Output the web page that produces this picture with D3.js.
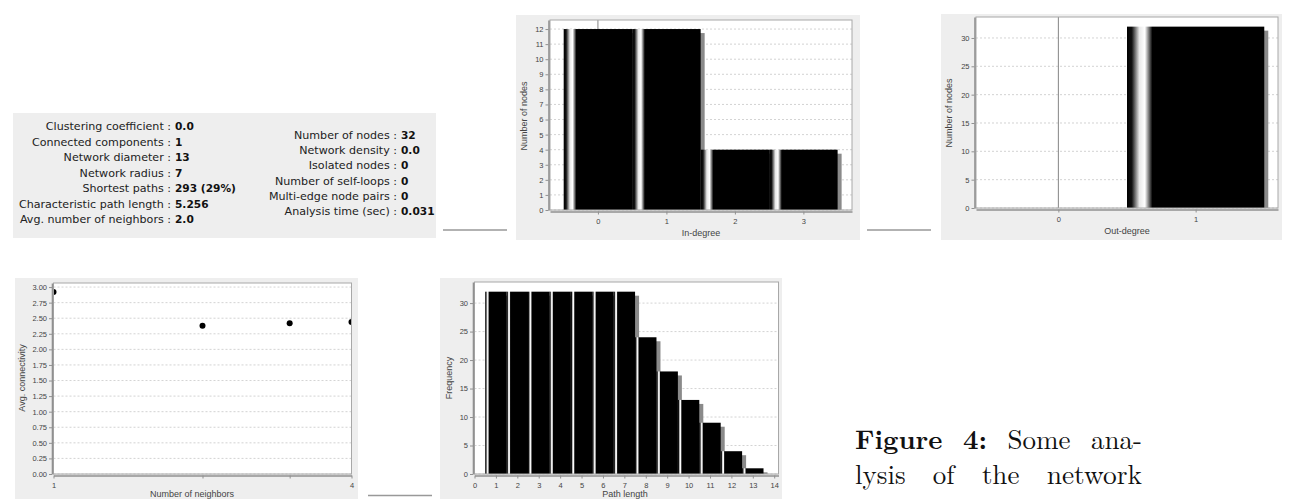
<!DOCTYPE html>
<html>
<head>
<meta charset="utf-8">
<script src="https://cdn.jsdelivr.net/npm/d3@7"></script>
<style>
  body { margin: 0; background: #fff; }
  svg { display: block; }
</style>
</head>
<body>
<div id="fig"></div>
<script>
// ---- data ----
var statLabelsLeft = ["Clustering coefficient", "Connected components", "Network diameter",
    "Network radius", "Shortest paths", "Characteristic path length", "Avg. number of neighbors"];
var statValuesLeft = ["0.0", "1", "13", "7", "293 (29%)", "5.256", "2.0"];
var statLabelsRight = ["Number of nodes", "Network density", "Isolated nodes",
    "Number of self-loops", "Multi-edge node pairs", "Analysis time (sec)"];
var statValuesRight = ["32", "0.0", "0", "0", "0", "0.031"];

var inDegree = [0, 1, 2, 3];
var inDegreeCounts = [12, 12, 4, 4];
var inDegreeXTicks = [0, 1, 2, 3];
var inDegreeYTicks = [0, 1, 2, 3, 4, 5, 6, 7, 8, 9, 10, 11, 12];

var outDegree = [1];
var outDegreeCounts = [32];
var outDegreeXTicks = [0, 1];
var outDegreeYTicks = [0, 5, 10, 15, 20, 25, 30];

var neighbors = [1, 2, 3, 4];
var avgConnectivity = [2.92, 2.38, 2.42, 2.44];
var neighborXTicks = [1, 2, 3, 4];
var connYTicks = [0, 0.25, 0.5, 0.75, 1, 1.25, 1.5, 1.75, 2, 2.25, 2.5, 2.75, 3];

var pathLength = [1, 2, 3, 4, 5, 6, 7, 8, 9, 10, 11, 12, 13];
var pathFreq = [32, 32, 32, 32, 32, 32, 32, 24, 18, 13, 9, 4, 1];
var pathXTicks = [0, 1, 2, 3, 4, 5, 6, 7, 8, 9, 10, 11, 12, 13, 14];
var pathYTicks = [0, 5, 10, 15, 20, 25, 30];

// caption words: text, bold, width in em (Computer Modern metrics)
var captionLine1 = [["Figure", true, 3.24], ["4:", true, 0.894], ["Some", false, 2.333], ["ana-", false, 1.889]];
var captionLine2 = [["lysis", false, 1.872], ["of", false, 0.806], ["the", false, 1.389], ["network", false, 3.531]];

// ---- drawing ----
var svg = d3.select("#fig").append("svg")
    .attr("width", 1291)
    .attr("height", 499);

var defs = svg.append("defs");
// JFreeChart style bar gradient (dark edge, bright stripe, then solid)
var grad = defs.append("linearGradient")
    .attr("id", "barGrad")
    .attr("x1", 0).attr("x2", 1).attr("y1", 0).attr("y2", 0);
[[0, "#000"], [0.035, "#111"], [0.09, "#e8e8e8"], [0.13, "#fff"], [0.185, "#000"], [1, "#000"]]
    .forEach(function(s) {
        grad.append("stop").attr("offset", s[0]).attr("stop-color", s[1]);
    });

var tickFont = "Liberation Sans, Arial, sans-serif";
var clipCount = 0;

function drawChart(o) {
    var g = svg.append("g");
    var p = o.plot;

    g.append("rect")
        .attr("x", o.panel[0]).attr("y", o.panel[1])
        .attr("width", o.panel[2]).attr("height", o.panel[3])
        .attr("fill", "#eeeeee");

    g.append("rect")
        .attr("x", p.x).attr("y", p.y)
        .attr("width", p.w).attr("height", p.h)
        .attr("fill", "#fff");

    var x = o.x.range([p.x, p.x + p.w]);
    var y = d3.scaleLinear().domain(o.yDomain).range([p.y + p.h, p.y]);

    // horizontal dashed gridlines
    g.selectAll(".grid")
        .data(o.yTicks)
        .enter()
        .append("line")
        .attr("x1", p.x).attr("x2", p.x + p.w)
        .attr("y1", function(d) { return y(d); })
        .attr("y2", function(d) { return y(d); })
        .attr("stroke", "#c8c8c8")
        .attr("stroke-width", 0.8)
        .attr("stroke-dasharray", "2,2");

    // zero baseline on the domain axis
    if (o.zeroLine) {
        g.append("line")
            .attr("x1", x(0)).attr("x2", x(0))
            .attr("y1", p.y).attr("y2", p.y + p.h)
            .attr("stroke", "#666")
            .attr("stroke-width", 0.8);
    }

    var id = "clip" + (clipCount++);
    defs.append("clipPath").attr("id", id)
        .append("rect")
        .attr("x", p.x).attr("y", p.y)
        .attr("width", p.w).attr("height", p.h);

    var marks = g.append("g").attr("clip-path", "url(#" + id + ")");
    o.marks(marks, x, y);

    // plot outline
    g.append("rect")
        .attr("x", p.x).attr("y", p.y)
        .attr("width", p.w).attr("height", p.h)
        .attr("fill", "none")
        .attr("stroke", "#a8a8a8")
        .attr("stroke-width", 1);

    // axes
    var yAxis = d3.axisLeft(y)
        .tickValues(o.yTicks)
        .tickFormat(o.yFormat)
        .tickSize(3)
        .tickSizeOuter(0)
        .tickPadding(2);
    var xAxis = d3.axisBottom(x)
        .tickValues(o.xTicks)
        .tickFormat(o.xFormat)
        .tickSize(3)
        .tickSizeOuter(0)
        .tickPadding(4);

    var ya = g.append("g")
        .attr("transform", "translate(" + (p.x - 1.5) + ",0)")
        .call(yAxis);
    var xa = g.append("g")
        .attr("transform", "translate(0," + (p.y + p.h + 1.5) + ")")
        .call(xAxis);

    [ya, xa].forEach(function(a) {
        a.select(".domain").attr("stroke", "#909090").attr("stroke-width", 1.6);
        a.selectAll(".tick line").attr("stroke", "#909090");
        a.selectAll(".tick text")
            .attr("fill", "#444")
            .style("font-family", tickFont)
            .style("font-size", "7.5px");
    });

    g.append("text")
        .attr("transform", "translate(" + o.yLabelPos[0] + "," + o.yLabelPos[1] + ") rotate(-90)")
        .attr("text-anchor", "middle")
        .attr("fill", "#444")
        .style("font-family", tickFont)
        .style("font-size", "9px")
        .text(o.yLabel);

    g.append("text")
        .attr("x", o.xLabelPos[0]).attr("y", o.xLabelPos[1])
        .attr("text-anchor", "middle")
        .attr("fill", "#444")
        .style("font-family", tickFont)
        .style("font-size", "9px")
        .text(o.xLabel);
}

function barMarks(xs, ys) {
    return function(m, x, y) {
        var data = xs.map(function(d, i) { return { x: d, v: ys[i] }; });
        // shadows
        m.selectAll(".shadow")
            .data(data)
            .enter()
            .append("rect")
            .attr("x", function(d) { return x(d.x - 0.5) + 4; })
            .attr("y", function(d) { return y(d.v) + 4; })
            .attr("width", function(d) { return x(d.x + 0.5) - x(d.x - 0.5); })
            .attr("height", function(d) { return y(0) - y(d.v); })
            .attr("fill", "#8a8a8a");
        m.selectAll(".bar")
            .data(data)
            .enter()
            .append("rect")
            .attr("x", function(d) { return x(d.x - 0.5); })
            .attr("y", function(d) { return y(d.v); })
            .attr("width", function(d) { return x(d.x + 0.5) - x(d.x - 0.5); })
            .attr("height", function(d) { return y(0) - y(d.v); })
            .attr("fill", "url(#barGrad)");
    };
}

// In-degree
drawChart({
    panel: [516, 15, 344, 225],
    plot: { x: 550, y: 20, w: 302, h: 190 },
    x: d3.scaleLinear().domain([-0.7, 3.71]),
    yDomain: [0, 12.6],
    xTicks: inDegreeXTicks, yTicks: inDegreeYTicks,
    xFormat: d3.format("d"), yFormat: d3.format("d"),
    zeroLine: true,
    marks: barMarks(inDegree, inDegreeCounts),
    yLabel: "Number of nodes", yLabelPos: [527, 116],
    xLabel: "In-degree", xLabelPos: [701, 235.5]
});

// Out-degree
drawChart({
    panel: [941, 14, 341, 226],
    plot: { x: 976, y: 17, w: 302, h: 191 },
    x: d3.scaleLinear().domain([-0.6, 1.6]),
    yDomain: [0, 33.7],
    xTicks: outDegreeXTicks, yTicks: outDegreeYTicks,
    xFormat: d3.format("d"), yFormat: d3.format("d"),
    zeroLine: true,
    marks: barMarks(outDegree, outDegreeCounts),
    yLabel: "Number of nodes", yLabelPos: [952, 113],
    xLabel: "Out-degree", xLabelPos: [1127, 234]
});

// Avg. connectivity vs number of neighbors (log x axis)
drawChart({
    panel: [15, 278, 343, 225],
    plot: { x: 53.5, y: 283, w: 298, h: 191 },
    x: d3.scaleLog().domain([1, 4]),
    yDomain: [0, 3.065],
    xTicks: neighborXTicks, yTicks: connYTicks,
    xFormat: function(d) { return (d === 1 || d === 4) ? d : ""; },
    yFormat: d3.format(".2f"),
    zeroLine: false,
    marks: function(m, x, y) {
        m.selectAll("circle")
            .data(neighbors)
            .enter()
            .append("circle")
            .attr("cx", function(d) { return x(d); })
            .attr("cy", function(d, i) { return y(avgConnectivity[i]); })
            .attr("r", 3)
            .attr("fill", "#000");
    },
    yLabel: "Avg. connectivity", yLabelPos: [25, 378],
    xLabel: "Number of neighbors", xLabelPos: [192, 496.5]
});

// Shortest path length distribution
drawChart({
    panel: [440, 278, 342, 225],
    plot: { x: 474.5, y: 282, w: 304, h: 192 },
    x: d3.scaleLinear().domain([0, 14.2]),
    yDomain: [0, 33.7],
    xTicks: pathXTicks, yTicks: pathYTicks,
    xFormat: d3.format("d"), yFormat: d3.format("d"),
    zeroLine: false,
    marks: barMarks(pathLength, pathFreq),
    yLabel: "Frequency", yLabelPos: [452, 378],
    xLabel: "Path length", xLabelPos: [625, 496.5]
});

// ---- statistics panel ----
var stats = svg.append("g");
stats.append("rect")
    .attr("x", 13).attr("y", 113)
    .attr("width", 423).attr("height", 125)
    .attr("fill", "#eeeeee");

function statColumn(labels, values, colonX, y0, dy) {
    labels.forEach(function(l, i) {
        var yy = y0 + i * dy;
        stats.append("text")
            .attr("x", colonX).attr("y", yy)
            .attr("text-anchor", "end")
            .attr("fill", "#222")
            .style("font-family", "DejaVu Sans, sans-serif")
            .style("font-size", "11.1px")
            .text(l + " :");
        stats.append("text")
            .attr("x", colonX + 4).attr("y", yy)
            .attr("fill", "#111")
            .style("font-family", "DejaVu Sans, sans-serif")
            .style("font-size", "10.6px")
            .style("font-weight", "bold")
            .text(values[i]);
    });
}
statColumn(statLabelsLeft, statValuesLeft, 171, 130, 15.5);
statColumn(statLabelsRight, statValuesRight, 397, 139, 15.2);

// ---- short rules between panels ----
var rules = [[443, 507, 230], [867, 931, 230], [368, 432, 495.5]];
svg.selectAll(".rule")
    .data(rules)
    .enter()
    .append("line")
    .attr("x1", function(d) { return d[0]; })
    .attr("x2", function(d) { return d[1]; })
    .attr("y1", function(d) { return d[2]; })
    .attr("y2", function(d) { return d[2]; })
    .attr("stroke", "#999")
    .attr("stroke-width", 1.3);

// ---- caption (justified, two lines) ----
var capFont = "Latin Modern Roman, CMU Serif, Liberation Serif, serif";
var capSize = 27;
var capLeft = 855, capRight = 1142;
function captionLine(words, yy) {
    var total = d3.sum(words, function(w) { return w[2] * capSize; });
    var gap = (capRight - capLeft - total) / (words.length - 1);
    var xx = capLeft;
    words.forEach(function(w) {
        var wd = w[2] * capSize;
        svg.append("text")
            .attr("x", xx).attr("y", yy)
            .attr("fill", "#111")
            .attr("textLength", wd)
            .attr("lengthAdjust", "spacingAndGlyphs")
            .style("font-family", capFont)
            .style("font-size", capSize + "px")
            .style("font-weight", w[1] ? "bold" : "normal")
            .text(w[0]);
        xx += wd + gap;
    });
}
captionLine(captionLine1, 448.5);
captionLine(captionLine2, 483.5);
</script>
</body>
</html>
